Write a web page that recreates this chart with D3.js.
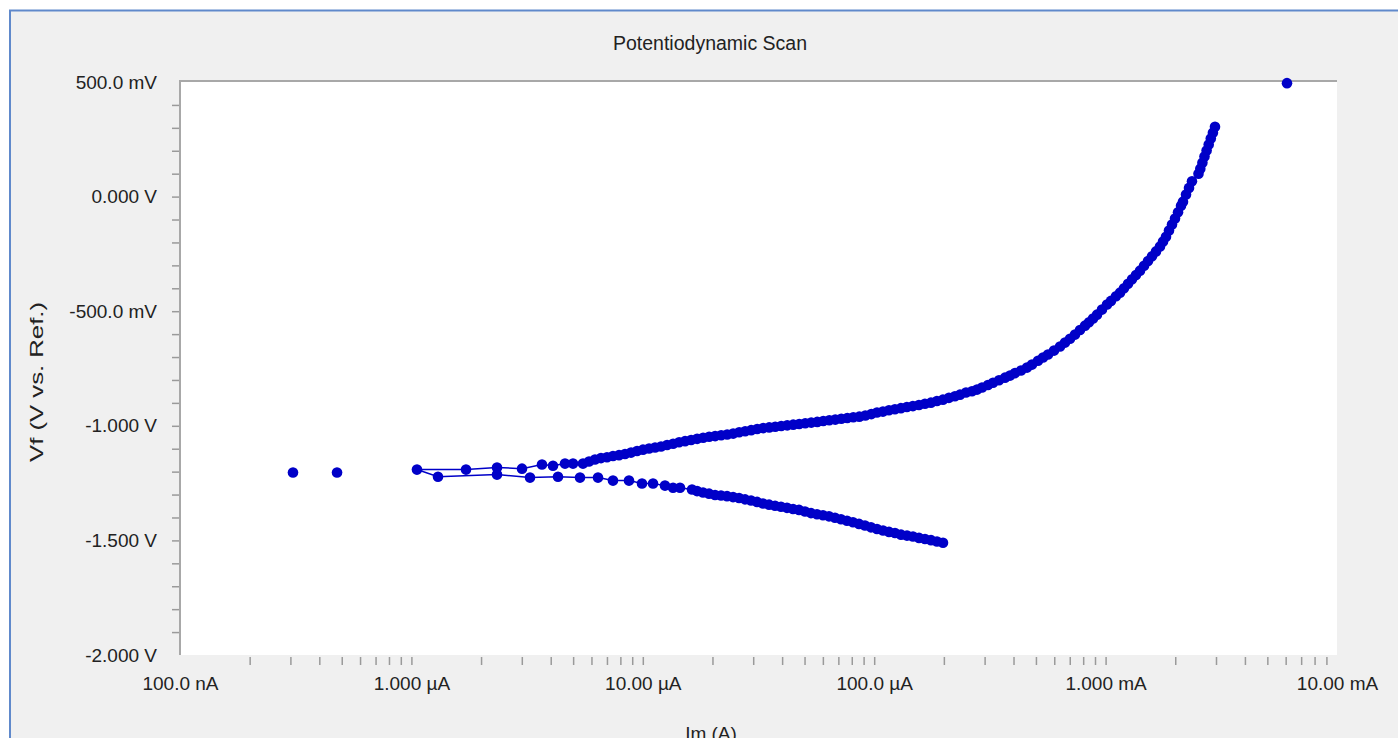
<!DOCTYPE html>
<html>
<head>
<meta charset="utf-8">
<script src="https://cdn.jsdelivr.net/npm/d3@7"></script>
<style>
body { margin: 0; background: #fff; overflow: hidden; }
text { font-family: "Liberation Sans", Arial, sans-serif; fill: #222; }
</style>
</head>
<body>
<script>
// potentials in mV, currents in uA (absolute value)

// cathodic branch, from -1.5 V up towards Ecorr
const cathodicV = [-1510,-1505,-1499,-1494,-1489,-1483,-1479,-1475,-1468,-1463,
	-1457,-1450,-1443,-1435,-1428,-1421,-1414,-1408,-1401,-1395,
	-1390,-1386,-1381,-1374,-1367,-1363,-1358,-1353,-1349,-1344,
	-1339,-1332,-1326,-1321,-1315,-1311,-1307,-1304,-1302,-1296,
	-1291,-1285,-1278,
	-1270,-1270,-1261,-1252,-1252,-1239,-1239,-1226,-1226,-1222,-1226,-1213,-1222];
const cathodicI = [198.3,186.8,176.0,165.8,156.2,147.1,138.6,130.6,123.0,115.9,
	109.2,102.8,96.87,91.26,85.97,80.99,76.30,71.88,67.71,63.79,
	60.09,56.61,53.33,50.24,47.33,44.59,42.00,39.57,37.28,35.12,
	33.08,31.17,29.36,27.66,26.06,24.55,23.12,21.78,20.52,19.33,
	18.21,17.16,16.32,
	14.48,13.51,12.47,11.07,9.920,8.716,7.433,6.403,5.353,4.300,3.255,2.344,1.303];

// anodic branch, from Ecorr up to ~ +0.3 V
const anodicV = [-1191,-1191,-1182,-1187,-1169,-1174,-1165,-1165,
	-1165,-1156,-1147,-1141,-1137,-1132,-1128,-1123,-1117,-1110,
	-1104,-1099,-1095,-1090,-1084,-1078,-1072,-1067,-1062,-1057,
	-1052,-1048,-1045,-1041,-1038,-1034,-1028,-1024,-1019,-1014,
	-1010,-1007,-1004,-1001,-998,-995,-992,-989,-986,-983,
	-979,-976,-973,-969,-966,-963,-960,-955,-949,-942,
	-938,-932,-928,-923,-918,-914,-909,-904,-899,-892,
	-886,-878,-871,-864,
	-855,-849,-842,-833,-822,-812,-801,-790,-781,-770,
	-759,-746,-733,-716,-702,-689,-672,-654,-637,-620,
	-602,-582,-563,-548,-532,-515,-493,-471,-455,-435,
	-419,-400,-380,-361,-342,-323,-302,-281,-260,-239,
	-218,-196,-175,-148,-122,-96,-68,-40,-22,9,
	38,67,100,122,148,175,201,227,253,279,
	305];
const anodicI = [1.057,1.722,2.344,3.006,3.667,4.091,4.611,4.994,
	5.514,5.854,6.214,6.597,7.004,7.435,7.893,8.379,8.895,9.443,
	10.02,10.64,11.30,11.99,12.73,13.52,14.35,15.23,16.17,17.17,
	18.23,19.35,20.54,21.81,23.15,24.58,26.09,27.70,29.40,31.21,
	33.14,35.18,37.35,39.65,42.09,44.68,47.43,50.35,53.46,56.75,
	60.25,63.96,67.90,72.08,76.52,81.24,86.24,91.55,97.19,102.8,
	109.1,115.8,122.9,130.5,138.5,147.0,156.1,165.7,175.9,186.7,
	198.2,210.4,223.3,234.9,
	249.3,264.6,278.2,292.4,310.3,326.2,346.2,367.5,386.3,406.0,
	430.9,457.4,480.7,510.4,536.4,563.7,598.4,635.3,667.7,701.7,
	737.5,775.1,814.7,847.8,882.3,918.0,964.7,1014,1055,1109,
	1154,1201,1250,1301,1353,1408,1466,1525,1587,1651,
	1718,1771,1824,1879,1936,1995,2056,2118,2160,2226,
	2293,2362,2520,2566,2620,2675,2732,2790,2848,2909,
	2970];

// loose points not joined by the trace
const looseV = [-1204, -1204, 495];
const looseI = [0.3078, 0.4771, 6080];

// axis labels
const yMajor = [0.5, 0, -0.5, -1, -1.5, -2];
const yLabels = ["500.0 mV", "0.000 V", "-500.0 mV", "-1.000 V", "-1.500 V", "-2.000 V"];
const xMajor = [1e-7, 1e-6, 1e-5, 1e-4, 1e-3, 1e-2];
const xLabels = ["100.0 nA", "1.000 \u00b5A", "10.00 \u00b5A", "100.0 \u00b5A", "1.000 mA", "10.00 mA"];

function toPoints(vs, is) {
	return vs.map((v, k) => ({v: v / 1000, i: is[k] * 1e-6}));
}
let cathodic = toPoints(cathodicV, cathodicI);
let anodic = toPoints(anodicV, anodicI);
let loose = toPoints(looseV, looseI);
let trace = cathodic.concat(anodic);
let allPts = trace.concat(loose);

const W = 1398, H = 738;
let pLeft = 180, pRight = 1337, pTop = 82, pBottom = 655;

let svg = d3.select("body").append("svg")
	.attr("width", W)
	.attr("height", H);

// window frame
svg.append("rect")
	.attr("x", 10).attr("y", 10.5)
	.attr("width", W + 20).attr("height", H + 20)
	.attr("fill", "#f0f0f0")
	.attr("stroke", "#6089cb")
	.attr("stroke-width", 2);

// plot area
svg.append("rect")
	.attr("x", pLeft).attr("y", pTop - 1)
	.attr("width", pRight - pLeft).attr("height", pBottom - pTop + 1)
	.attr("fill", "#fff");

let x = d3.scaleLog().domain([1e-7, 1e-2]).range([pLeft, pRight]);
let y = d3.scaleLinear().domain([-2, 0.5]).range([pBottom, pTop]);

// y axis: minor ticks every 100 mV, labels on the 500 mV ones
let yTicks = d3.range(-19, 5).map(k => k / 10);
let yg = svg.append("g")
	.attr("transform", "translate(" + pLeft + ",0)")
	.call(d3.axisLeft(y).tickValues(yTicks).tickSize(8).tickFormat(""));
yg.select(".domain").remove();
yg.selectAll("line").attr("stroke", "#9a9a9a").attr("stroke-width", 1.5);

let ylab = svg.append("g")
	.attr("transform", "translate(" + pLeft + ",0)")
	.call(d3.axisLeft(y).tickValues(yMajor).tickSize(0).tickPadding(23)
		.tickFormat((d, k) => yLabels[k]));
ylab.select(".domain").remove();
ylab.selectAll("text").attr("font-size", 19).attr("fill", "#222").attr("font-family", null);

// x axis: ticks at 2..9 of every decade
let xTicks = [];
for (let e = -7; e < -2; e++) {
	for (let m = 2; m <= 10; m++) {
		if (!(e == -3 && m == 10)) xTicks.push(m * Math.pow(10, e));
	}
}
let xg = svg.append("g")
	.attr("transform", "translate(0," + (pBottom + 2) + ")")
	.call(d3.axisBottom(x).tickValues(xTicks).tickSize(8).tickFormat(""));
xg.select(".domain").remove();
xg.selectAll("line").attr("stroke", "#9a9a9a").attr("stroke-width", 1.5);

let xlab = svg.append("g")
	.attr("transform", "translate(0," + pBottom + ")")
	.call(d3.axisBottom(x).tickValues(xMajor).tickSize(0).tickPadding(22)
		.tickFormat((d, k) => xLabels[k]));
xlab.select(".domain").remove();
xlab.selectAll("text").attr("font-size", 19).attr("fill", "#222").attr("font-family", null);

// frame lines of the plot
svg.append("line")
	.attr("x1", pLeft).attr("x2", pRight).attr("y1", pTop - 1).attr("y2", pTop - 1)
	.attr("stroke", "#a8a8a8").attr("stroke-width", 2);
svg.append("line")
	.attr("x1", pLeft).attr("x2", pLeft).attr("y1", pTop - 2).attr("y2", pBottom)
	.attr("stroke", "#a8a8a8").attr("stroke-width", 2);

// titles
svg.append("text")
	.attr("x", 710).attr("y", 50)
	.attr("text-anchor", "middle")
	.attr("font-size", 19.5)
	.text("Potentiodynamic Scan");

svg.append("text")
	.attr("transform", "translate(43,382)rotate(-90)")
	.attr("text-anchor", "middle")
	.attr("font-size", 19)
	.attr("textLength", 160)
	.attr("lengthAdjust", "spacingAndGlyphs")
	.text("Vf (V vs. Ref.)");

svg.append("text")
	.attr("x", 711).attr("y", 740)
	.attr("text-anchor", "middle")
	.attr("font-size", 19)
	.text("Im (A)");

// the scan: thin trace plus markers
let blue = "#0000c8";
svg.append("path")
	.datum(trace)
	.attr("d", d3.line().x(d => x(d.i)).y(d => y(d.v)))
	.attr("fill", "none")
	.attr("stroke", blue)
	.attr("stroke-width", 1.5);

svg.append("g").selectAll("circle")
	.data(allPts)
	.enter()
	.append("circle")
	.attr("cx", d => x(d.i))
	.attr("cy", d => y(d.v))
	.attr("r", 5.3)
	.attr("fill", blue);
</script>
</body>
</html>
